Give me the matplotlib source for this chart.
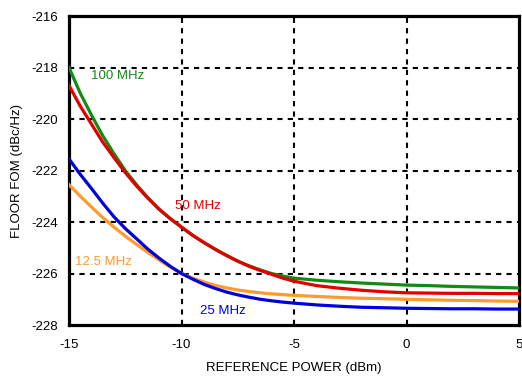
import matplotlib
matplotlib.use("Agg")
import matplotlib.pyplot as plt

plt.rcParams['font.family'] = ['Liberation Sans', 'DejaVu Sans']
plt.rcParams['axes.unicode_minus'] = False

# reference power (dBm)
x = [-15, -14.5, -14, -13.5, -13, -12.5, -12, -11.5, -11, -10.5, -10,
     -9.5, -9, -8.5, -8, -7.5, -7, -6.5, -6, -5.5, -5,
     -4, -3, -2, -1, 0, 1, 2, 3, 4, 5]

# floor FOM (dBc/Hz)
fom_100 = [-218.0, -219.0, -219.85, -220.65, -221.35, -222.0, -222.55, -223.05,
           -223.5, -223.87, -224.2, -224.52, -224.8, -225.06, -225.3, -225.52,
           -225.7, -225.86, -226.0, -226.1, -226.18,
           -226.26, -226.32, -226.37, -226.41, -226.45, -226.47, -226.5, -226.52,
           -226.54, -226.56]
fom_50 = [-218.7, -219.5, -220.2, -220.9, -221.5, -222.08, -222.6, -223.07,
          -223.5, -223.87, -224.2, -224.52, -224.8, -225.06, -225.3, -225.52,
          -225.72, -225.88, -226.03, -226.18, -226.3,
          -226.47, -226.57, -226.65, -226.71, -226.75, -226.76, -226.77, -226.77,
          -226.78, -226.78]
fom_25 = [-221.55, -222.15, -222.7, -223.27, -223.8, -224.25, -224.65, -225.05,
          -225.4, -225.72, -226.0, -226.22, -226.42, -226.58, -226.72, -226.83,
          -226.92, -227.0, -227.06, -227.11, -227.15,
          -227.22, -227.27, -227.31, -227.33, -227.35, -227.36, -227.37, -227.37,
          -227.38, -227.38]
fom_12 = [-222.55, -223.0, -223.42, -223.83, -224.2, -224.55, -224.87, -225.18,
          -225.47, -225.75, -226.0, -226.18, -226.33, -226.46, -226.56, -226.64,
          -226.7, -226.75, -226.79, -226.82, -226.85,
          -226.89, -226.93, -226.96, -226.98, -227.0, -227.02, -227.04, -227.05,
          -227.07, -227.08]

green = '#138a13'
red = '#e00000'
blue = '#0000dd'
orange = '#ff9a2e'

fig = plt.figure(figsize=(5.22, 3.76), dpi=100)
ax = fig.add_axes([0.1322, 0.1356, 0.8621, 0.8218])

ax.plot(x, fom_12, color=orange, lw=2.3, zorder=3)
ax.plot(x, fom_25, color=blue, lw=2.3, zorder=3)
ax.plot(x, fom_100, color=green, lw=2.3, zorder=3)
ax.plot(x, fom_50, color=red, lw=2.3, zorder=4)

ax.set_xlim(-15, 5)
ax.set_ylim(-228, -216)
ax.set_xticks([-15, -10, -5, 0, 5])
ax.set_yticks([-228, -226, -224, -222, -220, -218, -216])
ax.set_xticklabels(['-15', '-10', '-5', '0', '5'])
ax.set_yticklabels(['-228', '-226', '-224', '-222', '-220', '-218', '-216'])
ax.tick_params(length=0, labelsize=9.5)
ax.tick_params(axis='x', pad=10)
ax.tick_params(axis='y', pad=8)

for v in [-10, -5, 0]:
    ax.axvline(v, color='black', lw=1.5, linestyle=(0, (2.5, 2.5)), zorder=1)
for v in [-226, -224, -222, -220, -218]:
    ax.axhline(v, color='black', lw=1.5, linestyle=(0, (2.5, 2.5)), zorder=1)

for s in ax.spines.values():
    s.set_linewidth(2.3)

ax.text(-14.02, -218.33, '100 MHz', color=green, fontsize=9.5, va='center')
ax.text(-10.29, -223.38, '50 MHz', color=red, fontsize=9.5, va='center')
ax.text(-14.73, -225.55, '12.5 MHz', color=orange, fontsize=9.5, va='center')
ax.text(-9.18, -227.46, '25 MHz', color=blue, fontsize=9.5, va='center')

ax.set_xlabel('REFERENCE POWER (dBm)', fontsize=9.5, labelpad=8)
ax.set_ylabel('FLOOR FOM (dBc/Hz)', fontsize=9.5, labelpad=6)

fig.savefig('out.png', dpi=100)
